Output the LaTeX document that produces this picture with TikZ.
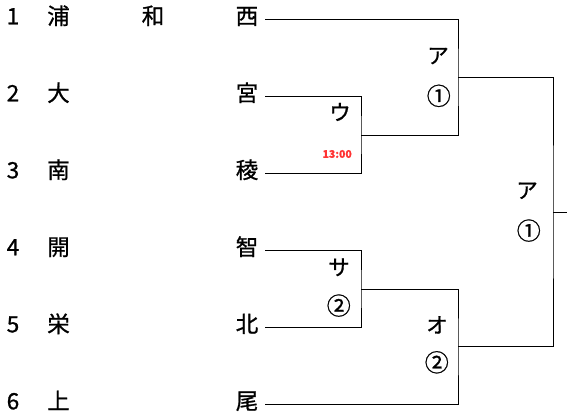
\documentclass[tikz,border=0pt]{standalone}
\usepackage{fontspec}
\newfontfamily\jpfont[FakeBold=0.9]{Noto Sans CJK JP}
\usetikzlibrary{positioning, calc}
\definecolor{timered}{RGB}{255,51,51}
\tikzset{
    team/.style={font=\jpfont\fontsize{22.5}{22.5}\selectfont, inner sep=0pt, text height=1.06em, text depth=0.1em},
    school/.style={team, inner xsep=7pt},
    result/.style={font=\jpfont\fontsize{21.5}{21.5}\selectfont, inner sep=0pt, anchor=east, text height=0.84em, text depth=0.1em, yshift=-2.5pt},
    gameno/.style={result, font=\jpfont\fontsize{24}{24}\selectfont, yshift=-1.5pt},
    kickoff/.style={font=\jpfont\bfseries\fontsize{10.5}{11}\selectfont, text=timered, inner sep=0pt, anchor=east},
    bracket/.style={draw=black, line width=0.9pt},
}

\begin{document}
\begin{tikzpicture}[x=1pt, y=-1pt]
    \useasboundingbox (0,0) rectangle (567,419);

    % seeds and school names
    \node[team] (n1) at (13,19.5) {1};
    \node[team] (a1) at (58.5,19.5) {浦};
    \node[team] (b1) at (153,19.5) {和};
    \node[school] (t1) at (247,19.5) {西};

    \node[team] (n2) at (13,96.5) {2};
    \node[team] (a2) at (58.5,96.5) {大};
    \node[school] (t2) at (247,96.5) {宮};

    \node[team] (n3) at (13,173.5) {3};
    \node[team] (a3) at (58.5,173.5) {南};
    \node[school] (t3) at (247,173.5) {稜};

    \node[team] (n4) at (13,250.5) {4};
    \node[team] (a4) at (58.5,250.5) {開};
    \node[school] (t4) at (247,250.5) {智};

    \node[team] (n5) at (13,327.5) {5};
    \node[team] (a5) at (58.5,327.5) {栄};
    \node[school] (t5) at (247,327.5) {北};

    \node[team] (n6) at (13,404.5) {6};
    \node[team] (a6) at (58.5,404.5) {上};
    \node[school] (t6) at (247,404.5) {尾};

    % match points
    \coordinate (mU) at (361,135);
    \coordinate (mA) at (458,77.25);
    \coordinate (mS) at (361,289);
    \coordinate (mO) at (458,346.75);
    \coordinate (mF) at (553,212);
    \coordinate (win) at (567,212);

    \draw[bracket] (t2.east) -| (mU) |- (t3.east);
    \draw[bracket] (t1.east) -| (mA) |- (mU);
    \draw[bracket] (t4.east) -| (mS) |- (t5.east);
    \draw[bracket] (mS) -| (mO) |- (t6.east);
    \draw[bracket] (mA) -| (mF) |- (mO);
    \draw[bracket] (mF) -- (win);

    % courts and game numbers
    \node[result] (cU) at ($(mU)+(-10,-21)$) {ウ};
    \node[kickoff] (hU) at ($(mU)+(-9,19)$) {13:00};
    \node[result] (cA) at ($(mA)+(-9,-20)$) {ア};
    \node[gameno] (gA) at ($(mA)+(-7,20)$) {①};
    \node[result] (cS) at ($(mS)+(-11,-20)$) {サ};
    \node[gameno] (gS) at ($(mS)+(-10,18)$) {②};
    \node[result] (cO) at ($(mO)+(-10,-20)$) {オ};
    \node[gameno] (gO) at ($(mO)+(-9,17)$) {②};
    \node[result] (cF) at ($(mF)+(-15,-20)$) {ア};
    \node[gameno] (gF) at ($(mF)+(-12,20)$) {①};
\end{tikzpicture}
\end{document}
